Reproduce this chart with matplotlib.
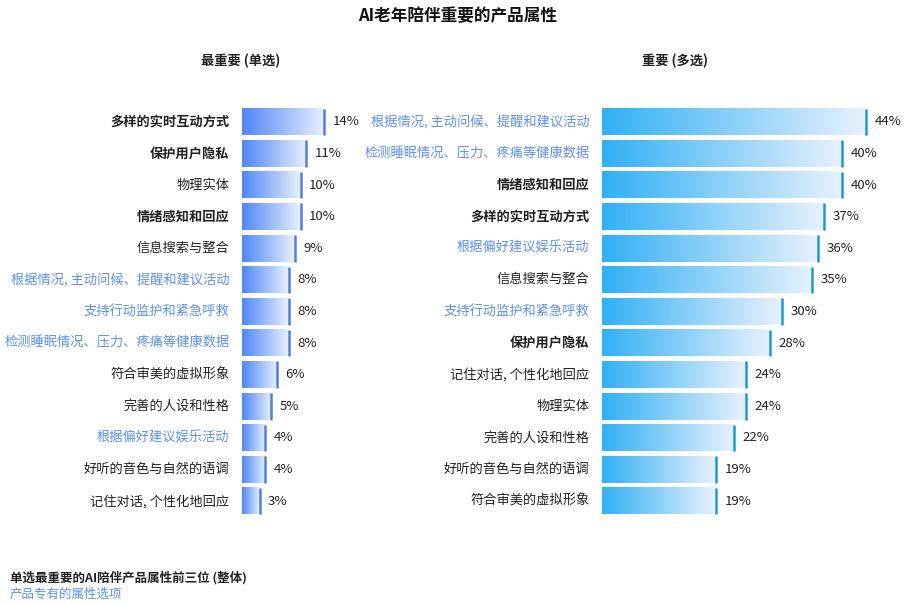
import numpy as np
import matplotlib
matplotlib.use("Agg")
import matplotlib.pyplot as plt
from matplotlib.colors import LinearSegmentedColormap

plt.rcParams["font.family"] = ["Noto Sans CJK SC", "DejaVu Sans"]

left_labels = ["多样的实时互动方式", "保护用户隐私", "物理实体", "情绪感知和回应", "信息搜索与整合",
               "根据情况, 主动问候、提醒和建议活动", "支持行动监护和紧急呼救", "检测睡眠情况、压力、疼痛等健康数据",
               "符合审美的虚拟形象", "完善的人设和性格", "根据偏好建议娱乐活动", "好听的音色与自然的语调", "记住对话, 个性化地回应"]
left_values = [14, 11, 10, 10, 9, 8, 8, 8, 6, 5, 4, 4, 3]

right_labels = ["根据情况, 主动问候、提醒和建议活动", "检测睡眠情况、压力、疼痛等健康数据", "情绪感知和回应", "多样的实时互动方式",
                "根据偏好建议娱乐活动", "信息搜索与整合", "支持行动监护和紧急呼救", "保护用户隐私", "记住对话, 个性化地回应",
                "物理实体", "完善的人设和性格", "好听的音色与自然的语调", "符合审美的虚拟形象"]
right_values = [44, 40, 40, 37, 36, 35, 30, 28, 24, 24, 22, 19, 19]

special = {"根据情况, 主动问候、提醒和建议活动", "支持行动监护和紧急呼救", "检测睡眠情况、压力、疼痛等健康数据", "根据偏好建议娱乐活动"}
top3 = {"多样的实时互动方式", "保护用户隐私", "情绪感知和回应"}
BLUE_TXT = "#5b8ff9"

fig = plt.figure(figsize=(9.16, 6.05), dpi=100)
W, H = 916, 605

def panel(x0, xmax, px_per, labels, values, c0, cedge, title, title_x):
    width = xmax * px_per
    ax = fig.add_axes([x0 / W, 1 - 517 / H, width / W, 411 / H])
    n = len(values)
    cmap = LinearSegmentedColormap.from_list("g", [c0, "#e8f1fd"])
    grad = np.linspace(0, 1, 256).reshape(1, -1)
    h = 0.42
    for i, v in enumerate(values):
        ax.imshow(grad, cmap=cmap, extent=[0, v, i + h, i - h], aspect="auto", zorder=1)
        ax.plot([v, v], [i - h, i + h], color=cedge, lw=1.8, zorder=2, solid_capstyle="butt")
        ax.annotate(f"{v}%", (v, i), xytext=(6, 0), textcoords="offset points",
                    va="center", ha="left", fontsize=9.5, color="#222222")
        lab = labels[i]
        ax.annotate(lab, (0, i), xytext=(-9, 0), textcoords="offset points",
                    va="center", ha="right", fontsize=9.5,
                    color=BLUE_TXT if lab in special else "#222222",
                    fontweight="bold" if lab in top3 else "normal")
    ax.set_xlim(0, xmax)
    ax.set_ylim(n - 0.5, -0.5)
    ax.axis("off")
    fig.text(title_x / W, 1 - 61 / H, title, ha="center", va="center", fontsize=9.5,
             fontweight="bold", color="#222222")

panel(242, 20, 5.86, left_labels, left_values, "#4f86f7", "#4f7fe0", "最重要 (单选)", 241)
panel(602, 50, 6.0, right_labels, right_values, "#30b0f5", "#1a9ad8", "重要 (多选)", 675)

fig.text(458 / W, 1 - 16 / H, "AI老年陪伴重要的产品属性", ha="center", va="center",
         fontsize=12, fontweight="bold", color="#111111")
fig.text(10 / W, 1 - 578 / H, "单选最重要的AI陪伴产品属性前三位 (整体)", ha="left", va="center",
         fontsize=9, fontweight="bold", color="#222222")
fig.text(10 / W, 1 - 594 / H, "产品专有的属性选项", ha="left", va="center",
         fontsize=9, color=BLUE_TXT)

fig.savefig("out.png", dpi=100)
